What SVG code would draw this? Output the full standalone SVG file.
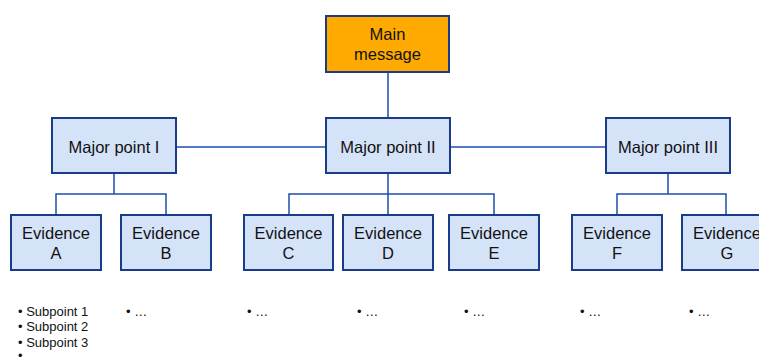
<svg xmlns="http://www.w3.org/2000/svg" width="759" height="361" viewBox="0 0 759 361">
  <style>
    .box { fill: #D5E3F9; stroke: #1A3A8A; stroke-width: 2; }
    .main { fill: #FFAA00; stroke: #1A3A8A; stroke-width: 2; }
    .lbl { font-family: "Liberation Sans", Arial, sans-serif; font-size: 16.5px; fill: #111; text-anchor: middle; }
    .sub { font-family: "Liberation Sans", Arial, sans-serif; font-size: 13px; fill: #111; }
    .conn { fill: none; stroke: #1E4DB0; stroke-width: 1.5; }
  </style>
  <rect width="759" height="361" fill="#FFFFFF"/>

  <g id="connectors">
    <path class="conn" d="M388 72 V118"/>
    <path class="conn" d="M176 147 H326 M450 147 H606"/>
    <path class="conn" d="M114 173 V194 M56 215 V194 H166 V215"/>
    <path class="conn" d="M388 173 V215 M289 215 V194 H494 V215"/>
    <path class="conn" d="M668 173 V194 M617 215 V194 H726 V215"/>
  </g>

  <g id="main-message">
    <rect class="main" x="326" y="16" width="123" height="56"/>
    <text class="lbl" x="387.5" y="40">Main</text>
    <text class="lbl" x="387.5" y="60">message</text>
  </g>

  <g id="major-1">
    <rect class="box" x="52" y="118" width="124" height="55"/>
    <text class="lbl" x="114" y="153">Major point I</text>
  </g>
  <g id="major-2">
    <rect class="box" x="326" y="118" width="124" height="55"/>
    <text class="lbl" x="388" y="153">Major point II</text>
  </g>
  <g id="major-3">
    <rect class="box" x="606" y="118" width="124" height="55"/>
    <text class="lbl" x="668" y="153">Major point III</text>
  </g>

  <g id="evidence-a">
    <rect class="box" x="11" y="215" width="90" height="55"/>
    <text class="lbl" x="56" y="239">Evidence</text>
    <text class="lbl" x="56" y="259">A</text>
  </g>
  <g id="evidence-b">
    <rect class="box" x="121" y="215" width="90" height="55"/>
    <text class="lbl" x="166" y="239">Evidence</text>
    <text class="lbl" x="166" y="259">B</text>
  </g>
  <g id="evidence-c">
    <rect class="box" x="244" y="215" width="89" height="55"/>
    <text class="lbl" x="288.5" y="239">Evidence</text>
    <text class="lbl" x="288.5" y="259">C</text>
  </g>
  <g id="evidence-d">
    <rect class="box" x="343" y="215" width="90" height="55"/>
    <text class="lbl" x="388" y="239">Evidence</text>
    <text class="lbl" x="388" y="259">D</text>
  </g>
  <g id="evidence-e">
    <rect class="box" x="449" y="215" width="90" height="55"/>
    <text class="lbl" x="494" y="239">Evidence</text>
    <text class="lbl" x="494" y="259">E</text>
  </g>
  <g id="evidence-f">
    <rect class="box" x="572" y="215" width="90" height="55"/>
    <text class="lbl" x="617" y="239">Evidence</text>
    <text class="lbl" x="617" y="259">F</text>
  </g>
  <g id="evidence-g">
    <rect class="box" x="682" y="215" width="90" height="55"/>
    <text class="lbl" x="727" y="239">Evidence</text>
    <text class="lbl" x="727" y="259">G</text>
  </g>

  <g id="subpoints">
    <text class="sub" x="18" y="316">• Subpoint 1</text>
    <text class="sub" x="18" y="331">• Subpoint 2</text>
    <text class="sub" x="18" y="347">• Subpoint 3</text>
    <text class="sub" x="18" y="360">•</text>
    <text class="sub" x="126" y="316">• …</text>
    <text class="sub" x="247" y="316">• …</text>
    <text class="sub" x="357" y="316">• …</text>
    <text class="sub" x="464" y="316">• …</text>
    <text class="sub" x="580" y="316">• …</text>
    <text class="sub" x="689" y="316">• …</text>
  </g>
</svg>
